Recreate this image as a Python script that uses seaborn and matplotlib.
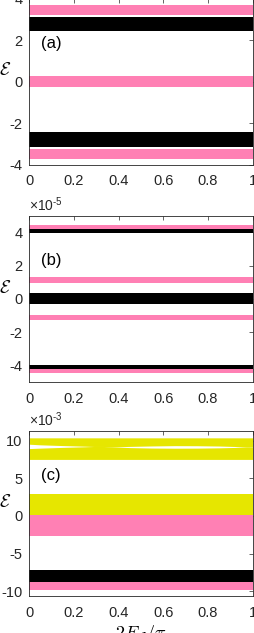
import matplotlib
matplotlib.use('Agg')
import matplotlib.pyplot as plt
import seaborn as sns

# band edges; x is 2E_J/pi in [0, 1]
x_span = [0.0, 1.0]

# panel (a), energy in plain units
a_lo = [3.25, 2.43, -0.26, -3.13, -3.72]
a_hi = [3.72, 3.13, 0.26, -2.43, -3.25]
a_band = ['pink', 'black', 'pink', 'black', 'pink']

# panel (b), energy in units of 1e-5
b_lo = [4.22, 3.95, 0.95, -0.33, -1.30, -4.20, -4.47]
b_hi = [4.47, 4.22, 1.30, 0.33, -0.95, -3.95, -4.22]
b_band = ['pink', 'black', 'pink', 'black', 'pink', 'black', 'pink']

# panel (c), energy in units of 1e-3
c_lo = [0.10, -2.60, -8.76, -9.87]
c_hi = [2.95, 0.10, -7.15, -8.76]
c_band = ['yellow', 'pink', 'black', 'pink']

# top yellow band of (c) is split by a thin gap that opens and closes
c_top_lo = 7.53
c_top_hi = 10.40
c_gap_x = [0.0, 0.05, 0.10, 0.15, 0.20, 0.25, 0.29, 0.33, 0.37, 0.45,
           0.55, 0.65, 0.75, 0.85, 0.92, 0.97, 1.0]
c_gap_lo = [8.97, 9.03, 9.08, 9.13, 9.17, 9.21, 9.25, 9.25, 9.20, 9.10,
            9.04, 9.02, 9.03, 9.07, 9.12, 9.18, 9.18]
c_gap_hi = [9.55, 9.47, 9.42, 9.37, 9.33, 9.29, 9.25, 9.25, 9.20, 9.26,
            9.32, 9.36, 9.35, 9.31, 9.25, 9.18, 9.18]

xticks = [0, 0.2, 0.4, 0.6, 0.8, 1]
xticklabels = ['0', '0.2', '0.4', '0.6', '0.8', '1']

palette = {'pink': '#ff80b4', 'black': '#000000', 'yellow': '#e6e600'}
axcol = '#262626'

sns.set_theme(style='white')
plt.rcParams['font.family'] = ['Liberation Sans', 'DejaVu Sans']
plt.rcParams['axes.unicode_minus'] = False
plt.rcParams['mathtext.fontset'] = 'custom'
plt.rcParams['mathtext.rm'] = 'Liberation Sans'
plt.rcParams['mathtext.it'] = 'Liberation Sans:italic'

W, H = 255, 633
fig = plt.figure(figsize=(W / 100, H / 100), dpi=100)
left, right = 29.3, 252.7
# (top, bottom) of each axes in pixels
boxes = [(-1.0, 164.5), (215.7, 382.0), (430.7, 596.0)]
axes = []
for top, bot in boxes:
    ax = fig.add_axes([left / W, 1 - bot / H, (right - left) / W, (bot - top) / H])
    axes.append(ax)


def bands(ax, lo, hi, kind):
    for l, h, k in zip(lo, hi, kind):
        ax.fill_between(x_span, [l, l], [h, h], color=palette[k], lw=0)


ax_a, ax_b, ax_c = axes
bands(ax_a, a_lo, a_hi, a_band)
bands(ax_b, b_lo, b_hi, b_band)
bands(ax_c, c_lo, c_hi, c_band)
ax_c.fill_between(c_gap_x, [c_top_lo] * len(c_gap_x), c_gap_lo,
                  color=palette['yellow'], lw=0)
ax_c.fill_between(c_gap_x, c_gap_hi, [c_top_hi] * len(c_gap_x),
                  color=palette['yellow'], lw=0)

ax_a.set_ylim(-4, 4)
ax_a.set_yticks([-4, -2, 0, 2, 4])
ax_b.set_ylim(-5, 5)
ax_b.set_yticks([-4, -2, 0, 2, 4])
ax_c.set_ylim(-10.65, 11.35)
ax_c.set_yticks([-10, -5, 0, 5, 10])

for ax, tag in zip(axes, ['(a)', '(b)', '(c)']):
    ax.set_xlim(0, 1)
    ax.set_xticks(xticks)
    ax.set_xticklabels(xticklabels)
    ax.tick_params(axis='both', direction='in', top=True, right=True,
                   length=3, width=0.5, color=axcol, labelcolor=axcol,
                   labelsize=10.5)
    ax.tick_params(axis='x', pad=7)
    ax.tick_params(axis='y', pad=5)
    for s in ax.spines.values():
        s.set_visible(True)
        s.set_linewidth(0.6)
        s.set_color(axcol)
    ax.set_facecolor('white')
    ax.grid(False)
    ax.text(0.052, 0.73, tag, transform=ax.transAxes, ha='left', va='center',
            fontsize=12, color='black')
    ax.set_ylabel(r'$\mathcal{E}$', rotation=0, fontsize=13, color='black',
                  math_fontfamily='cm', ha='center', va='center')
    ax.yaxis.set_label_coords(-0.109, 0.565)

ax_b.text(0.0, 1.01, r'$\times10^{\text{-}5}$', transform=ax_b.transAxes,
          ha='left', va='bottom', fontsize=10, color=axcol)
ax_c.text(0.0, 1.01, r'$\times10^{\text{-}3}$', transform=ax_c.transAxes,
          ha='left', va='bottom', fontsize=10, color=axcol)

ax_c.set_xlabel(r'$2E_J/\pi$', fontsize=13, math_fontfamily='cm', color='black')
ax_c.xaxis.set_label_coords(0.5, -0.163)

fig.savefig('out.png', dpi=100)
